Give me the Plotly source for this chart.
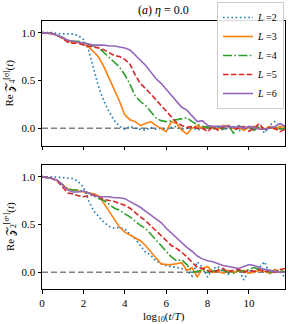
import plotly.graph_objects as go

# log10(t/T) grid
x = [i * 0.25 for i in range(48)]

# Top panel: Re Z_4^[sigma](t)
top_L2 = [1.0,1.0,1.0,0.99,0.99,0.99,0.985,0.97,0.93,0.82,0.62,0.42,0.28,0.17,0.08,0.02,
          -0.01,0.02,0.0,-0.01,-0.02,0.01,-0.01,0.0,-0.02,0.01,0.02,-0.01,0.0,0.01,-0.02,0.0,
          0.02,-0.01,0.01,-0.02,0.0,0.02,-0.03,0.01,0.0,-0.02,0.02,-0.05,0.03,0.07,0.02,0.0]
top_L3 = [1.0,0.995,0.99,0.97,0.94,0.91,0.90,0.90,0.88,0.85,0.80,0.74,0.64,0.52,0.40,0.28,
          0.14,0.09,0.07,0.03,0.05,0.07,0.03,0.0,-0.035,0.07,0.05,-0.02,-0.06,0.0,0.03,0.0,
          0.02,0.0,-0.01,0.03,0.02,0.0,0.01,-0.02,0.01,0.02,0.0,-0.01,0.02,-0.01,0.02,0.01]
top_L4 = [1.0,0.995,0.99,0.97,0.95,0.92,0.91,0.91,0.90,0.88,0.86,0.84,0.79,0.74,0.69,0.64,
          0.56,0.46,0.34,0.28,0.24,0.17,0.11,0.08,0.07,0.08,0.09,0.10,0.11,0.07,0.04,0.02,
          0.01,0.0,0.02,-0.01,0.03,-0.05,0.03,0.0,0.01,-0.02,0.02,-0.01,0.0,0.02,-0.01,0.0]
top_L5 = [1.0,0.995,0.99,0.97,0.94,0.90,0.89,0.89,0.87,0.86,0.85,0.84,0.82,0.79,0.76,0.75,
          0.72,0.67,0.56,0.47,0.42,0.36,0.30,0.24,0.18,0.12,0.06,0.03,0.01,0.02,0.0,0.0,
          -0.035,0.02,-0.02,0.01,0.03,-0.01,0.0,0.02,-0.03,0.0,0.05,-0.02,0.01,0.0,-0.035,-0.01]
top_L6 = [1.0,0.995,0.99,0.97,0.95,0.92,0.91,0.90,0.89,0.88,0.87,0.87,0.87,0.86,0.86,0.85,
          0.84,0.82,0.77,0.72,0.66,0.59,0.52,0.47,0.41,0.35,0.28,0.22,0.19,0.13,0.07,0.08,
          0.03,0.02,0.02,0.02,0.02,0.01,0.02,0.0,0.02,0.01,-0.01,-0.01,0.0,0.02,0.05,0.02]

# Bottom panel: Re Z_2^[sigma^z](t)
bot_L2 = [1.0,1.0,1.0,0.995,0.99,0.985,0.98,0.95,0.89,0.75,0.64,0.58,0.52,0.48,0.46,0.47,
          0.45,0.40,0.35,0.28,0.21,0.18,0.12,0.09,0.07,0.06,0.05,0.04,0.02,-0.04,0.11,0.05,
          -0.05,0.04,0.06,0.0,-0.02,0.05,0.03,-0.08,0.02,0.0,0.05,0.11,-0.02,0.03,0.01,-0.06]
bot_L3 = [1.0,0.99,0.98,0.96,0.91,0.87,0.86,0.85,0.84,0.83,0.82,0.80,0.72,0.63,0.55,0.47,
          0.42,0.39,0.36,0.33,0.28,0.22,0.15,0.09,0.08,0.08,0.09,0.10,0.02,0.05,-0.05,0.04,
          0.06,0.0,0.01,-0.01,0.02,0.0,0.01,0.02,-0.01,0.0,0.02,0.01,-0.01,0.03,0.0,0.01]
bot_L4 = [1.0,0.99,0.98,0.96,0.91,0.87,0.86,0.86,0.85,0.83,0.80,0.77,0.75,0.71,0.67,0.65,
          0.61,0.58,0.53,0.49,0.46,0.40,0.33,0.27,0.21,0.16,0.12,0.13,0.08,0.0,0.01,0.02,
          0.0,0.01,0.03,0.02,0.0,-0.01,0.02,0.01,0.03,0.05,0.03,0.02,0.0,0.01,0.02,0.0]
bot_L5 = [1.0,0.99,0.98,0.95,0.89,0.83,0.82,0.80,0.79,0.80,0.81,0.79,0.76,0.75,0.74,0.72,
          0.70,0.67,0.62,0.58,0.54,0.49,0.44,0.39,0.33,0.28,0.25,0.21,0.16,0.10,0.05,0.04,
          0.02,0.0,0.02,0.04,0.0,0.02,0.03,0.0,0.02,0.01,0.03,0.0,0.02,0.0,0.03,0.04]
bot_L6 = [1.0,0.99,0.98,0.96,0.91,0.86,0.84,0.84,0.85,0.83,0.80,0.79,0.79,0.79,0.78,0.78,
          0.77,0.74,0.71,0.68,0.64,0.60,0.56,0.52,0.46,0.41,0.35,0.30,0.26,0.22,0.17,0.14,
          0.12,0.11,0.09,0.07,0.06,0.05,0.04,0.06,0.08,0.07,0.05,0.03,0.02,0.01,0.0,0.0]

labels = ["<i>L</i> =2", "<i>L</i> =3", "<i>L</i> =4", "<i>L</i> =5", "<i>L</i> =6"]
colors = ["#1f77b4", "#ff7f0e", "#2ca02c", "#d62728", "#9467bd"]
dashes = ["1.6px,2.6px", "solid", "9px,2.4px,1.6px,2.4px", "5.5px,2.4px", "solid"]
y_ticks = [0.0, 0.5, 1.0]
y_ticktext = ["0.0", "0.5", "1.0"]
x_ticks = [0, 2, 4, 6, 8, 10]
top_ylabel = "Re 𝒵<sub>4</sub><sup>[σ]</sup>(<i>t</i>)"
bot_ylabel = "Re 𝒵<sub>2</sub><sup>[σᶻ]</sup>(<i>t</i>)"

top_series = [top_L2, top_L3, top_L4, top_L5, top_L6]
bot_series = [bot_L2, bot_L3, bot_L4, bot_L5, bot_L6]

FONT = "Liberation Serif"
fig = go.Figure()

for i in range(5):
    fig.add_trace(go.Scatter(x=x, y=top_series[i], mode="lines", name=labels[i],
                             line=dict(color=colors[i], width=1.6, dash=dashes[i]),
                             xaxis="x", yaxis="y", showlegend=True))
for i in range(5):
    fig.add_trace(go.Scatter(x=x, y=bot_series[i], mode="lines", name=labels[i],
                             line=dict(color=colors[i], width=1.6, dash=dashes[i]),
                             xaxis="x2", yaxis="y2", showlegend=False))

for xr, yr in [("x", "y"), ("x2", "y2")]:
    fig.add_shape(type="line", xref=xr + " domain", yref=yr,
                  x0=0, x1=1, y0=0, y1=0,
                  line=dict(color="#808080", width=1.5, dash="6px,3px"), layer="below")

axis_common = dict(showline=True, linecolor="black", linewidth=1, mirror=True,
                   ticks="outside", ticklen=3.5, tickwidth=0.8, tickcolor="black",
                   showgrid=False, zeroline=False, automargin=False,
                   tickfont=dict(family=FONT, size=11))

fig.update_layout(
    width=291, height=324,
    margin=dict(l=42, r=6, t=21, b=35, autoexpand=False),
    paper_bgcolor="white", plot_bgcolor="white",
    font=dict(family=FONT, size=10, color="black"),
    showlegend=True,
    xaxis=dict(domain=[0, 1], range=[0, 11.74], anchor="y", tickvals=x_ticks,
               showticklabels=False, **axis_common),
    yaxis=dict(domain=[0.5336, 1], range=[-0.185, 1.122], anchor="x", tickvals=y_ticks,
               ticktext=y_ticktext, **axis_common),
    xaxis2=dict(domain=[0, 1], range=[0, 11.74], anchor="y2", tickvals=x_ticks,
                **axis_common),
    yaxis2=dict(domain=[0, 0.4627], range=[-0.175, 1.122], anchor="x2", tickvals=y_ticks,
                ticktext=y_ticktext, **axis_common),
    legend=dict(xref="container", yref="container", x=217 / 291, y=1 - 2 / 324,
                xanchor="left", yanchor="top",
                bgcolor="rgba(255,255,255,0.85)", bordercolor="#cccccc", borderwidth=1,
                font=dict(family=FONT, size=10), itemwidth=30, tracegroupgap=0),
    annotations=[
        dict(text="(<i>a</i>) <i>η</i> = 0.0", xref="x domain", yref="y domain",
             x=0.5, y=1.0, xanchor="center", yanchor="bottom", yshift=2,
             showarrow=False, font=dict(family=FONT, size=12)),
        dict(text="log<sub>10</sub>(<i>t</i>/<i>T</i>)", xref="x2 domain", yref="paper",
             x=0.5, y=0, xanchor="center", yanchor="top", yshift=-19,
             showarrow=False, font=dict(family=FONT, size=11)),
        dict(text=top_ylabel, xref="paper", yref="y domain", x=0, y=0.5,
             xanchor="center", yanchor="middle", xshift=-32, textangle=-90,
             showarrow=False, font=dict(family=FONT, size=11)),
        dict(text=bot_ylabel, xref="paper", yref="y2 domain", x=0, y=0.5,
             xanchor="center", yanchor="middle", xshift=-32, textangle=-90,
             showarrow=False, font=dict(family=FONT, size=11)),
    ],
)

fig.write_html("out.html", config={"displayModeBar": False},
               post_script="document.body.style.margin='0';")
